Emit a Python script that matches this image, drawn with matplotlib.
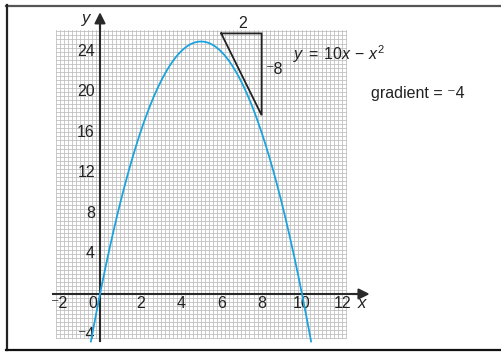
import numpy as np
import matplotlib
matplotlib.use("Agg")
import matplotlib.pyplot as plt
from matplotlib.lines import Line2D

plt.rcParams['font.family'] = ['Liberation Sans', 'DejaVu Sans']
plt.rcParams['mathtext.fontset'] = 'custom'
plt.rcParams['mathtext.rm'] = 'Liberation Sans'
plt.rcParams['mathtext.it'] = 'Liberation Sans:italic'

# ---- data ----
coef_a = 10          # y = a*x - x^2
x_start, x_end = -0.45, 10.45
x_ticks = [-2, 2, 4, 6, 8, 10, 12]
y_ticks = [4, 8, 12, 16, 20, 24]
y_neg_tick = -4
tri_x = [6, 8, 8, 6]
tri_y = [25.8, 25.8, 17.7, 25.8]
run_label = "2"
rise_label = "\u207b8"
gradient_text = "gradient = \u207b4"

# ---- figure with data coords mapped to pixels ----
W, H = 501, 353
fig = plt.figure(figsize=(W / 100, H / 100), dpi=100)
ax = fig.add_axes([0, 0, 1, 1])
px_x, px_y = 20.2, 10.1          # pixels per unit
x0_px, y0_px = 100, 294          # origin pixel (from top-left)
ax.set_xlim(-x0_px / px_x, (W - x0_px) / px_x)
ax.set_ylim(-(H - y0_px) / px_y, y0_px / px_y)
ax.axis('off')

# graph paper
gx0, gx1, gy0, gy1 = -2.2, 12.2, -4.4, 26.1
grid_col = '#bcbcbc'
for gx in np.arange(gx0, gx1 + 1e-6, 0.2):
    ax.plot([gx, gx], [gy0, gy1], color=grid_col, lw=0.55, zorder=1)
for gy in np.arange(gy0, gy1 + 1e-6, 0.4):
    ax.plot([gx0, gx1], [gy, gy], color=grid_col, lw=0.55, zorder=1)

# axes
axis_col = '#2a2a2a'
ax.plot([-2.35, 12.7], [0, 0], color=axis_col, lw=1.5, zorder=3)
ax.plot([0, 0], [-4.65, 26.5], color=axis_col, lw=1.5, zorder=3)
ax.annotate('', xy=(13.35, 0), xytext=(12.5, 0),
            arrowprops=dict(arrowstyle='-|>', color=axis_col, lw=1.5,
                            mutation_scale=16, shrinkA=0, shrinkB=0), zorder=4)
ax.annotate('', xy=(0, 27.9), xytext=(0, 26.2),
            arrowprops=dict(arrowstyle='-|>', color=axis_col, lw=1.5,
                            mutation_scale=16, shrinkA=0, shrinkB=0), zorder=4)
ax.text(-0.7, 27.3, 'y', style='italic', fontsize=12, ha='center', va='center', color='#222')
ax.text(12.97, -0.9, 'x', style='italic', fontsize=12, ha='center', va='center', color='#222')

fs = 11.5
for t in x_ticks:
    lab = ('\u207b' + str(abs(t))) if t < 0 else str(t)
    ax.text(t, -0.9, lab, fontsize=fs, ha='center', va='center', color='#222')
ax.text(-0.35, -0.9, '0', fontsize=fs, ha='center', va='center', color='#222')
for t in y_ticks:
    ax.text(-0.25, t, str(t), fontsize=fs, ha='right', va='center', color='#222')
ax.text(-0.25, y_neg_tick, '\u207b' + str(abs(y_neg_tick)), fontsize=fs,
        ha='right', va='center', color='#222')

# curve
xs = np.linspace(x_start, x_end, 400)
ys = coef_a * xs - xs ** 2
ax.plot(xs, ys, color='#1aa3df', lw=1.3, zorder=5)

# gradient triangle
ax.plot(tri_x, tri_y, color='#222', lw=1.3, zorder=6, solid_joinstyle='miter')
ax.text(7.08, 26.75, run_label, fontsize=fs, ha='center', va='center', color='#222')
ax.text(8.2, 22.2, rise_label, fontsize=fs, ha='left', va='center', color='#222')
ax.text(9.55, 23.7, r'$y\;=\;10x\,-\,x^{2}$', fontsize=fs, ha='left', va='center', color='#222')
ax.text(13.4, 19.9, gradient_text, fontsize=fs, ha='left', va='center', color='#222')

# frame
fig.add_artist(Line2D([6 / W, 1], [1 - 5.5 / H, 1 - 5.5 / H], transform=fig.transFigure,
                      color='#555555', lw=1.6))
fig.add_artist(Line2D([6.5 / W, 6.5 / W], [1 - 5 / H, 1 - 350 / H], transform=fig.transFigure,
                      color='#222222', lw=1.6))
fig.add_artist(Line2D([6 / W, 1], [1 - 350 / H, 1 - 350 / H], transform=fig.transFigure,
                      color='#111111', lw=1.6))

fig.savefig('out.png', dpi=100)
